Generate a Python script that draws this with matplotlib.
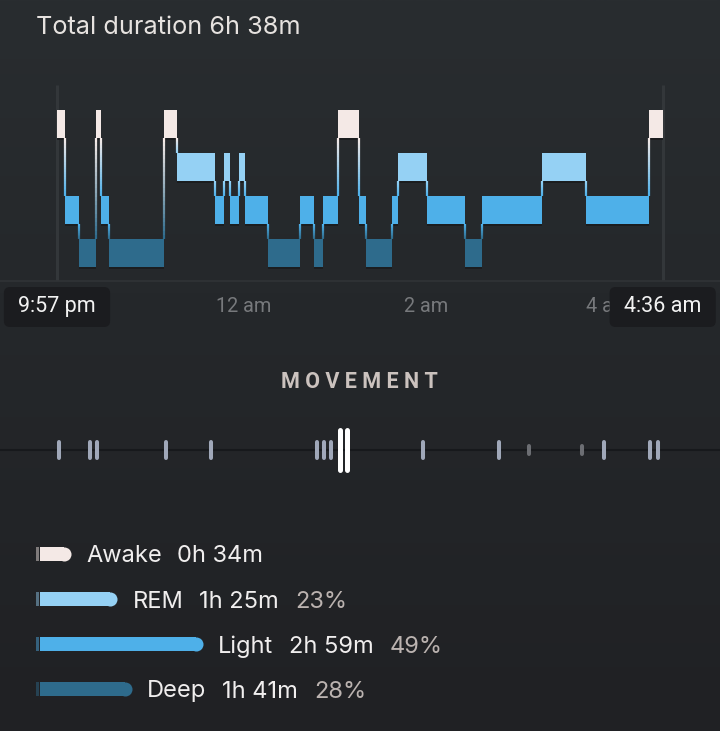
import numpy as np
import matplotlib
matplotlib.use("Agg")
import matplotlib.pyplot as plt
import matplotlib.colors as mcolors
from matplotlib.collections import LineCollection
from matplotlib.patches import FancyBboxPatch

plt.rcParams["font.family"] = ["Inter", "DejaVu Sans"]

# ------------------------------------------------------------
# data (minutes after 9:57 pm)
# ------------------------------------------------------------
stage_starts = [0, 5, 14.5, 25.7, 29.3, 34.3, 70.5, 79, 104, 110, 114, 120.2, 123.8,
                139.3, 160.4, 169, 175.2, 185.1, 199, 203.6, 220.4, 224.6, 244,
                268.8, 280.3, 319.8, 348.5, 389.7]
stage_seq = ["Awake", "Light", "Deep", "Awake", "Light", "Deep", "Awake", "REM",
             "Light", "REM", "Light", "REM", "Light", "Deep", "Light", "Deep",
             "Light", "Awake", "Light", "Deep", "Light", "REM", "Light", "Deep",
             "Light", "REM", "Light", "Awake"]
session_end = 399

movement_times = [1.4, 21.7, 26.5, 71.6, 101.3, 171.1, 176.0, 180.8, 186.3, 191.1,
                  241.0, 290.9, 310.9, 345.6, 360.5, 390.4, 395.6]
movement_level = [1, 1, 1, 1, 1, 1, 1, 1, 2.5, 2.5, 1, 1, 0.45, 0.45, 1, 1, 1]

time_ticks = [0, 123, 243, 363, 399]
time_labels = ["9:57 pm", "12 am", "2 am", "4 am", "4:36 am"]

stage_names = ["Awake", "REM", "Light", "Deep"]
stage_minutes = [34, 85, 179, 101]
stage_dur_labels = ["0h 34m", "1h 25m", "2h 59m", "1h 41m"]
stage_pct = ["", "23%", "49%", "28%"]

title = "Total duration 6h 38m"

# ------------------------------------------------------------
# style
# ------------------------------------------------------------
level = {"Awake": 3, "REM": 2, "Light": 1, "Deep": 0}
colour = {"Awake": "#f4e9e6", "REM": "#95d1f4", "Light": "#4eb0e9", "Deep": "#2e6b8c"}
half_h = 14 / 43

W, H = 720, 731
X0 = 57            # px of minute 0
PPM = 1.518        # px per minute


def fig_rect(top_px, bottom_px):
    return [0, 1 - bottom_px / H, 1, (bottom_px - top_px) / H]


fig = plt.figure(figsize=(W / 100, H / 100), dpi=100)

# background gradient
bg = fig.add_axes([0, 0, 1, 1], zorder=-10)
c_top = np.array(mcolors.to_rgb("#292d30"))
c_mid = np.array(mcolors.to_rgb("#25282b"))
c_bot = np.array(mcolors.to_rgb("#202124"))
yy = np.linspace(0, 1, 300)[:, None]
grad = np.where(yy < 0.4, c_top + (c_mid - c_top) * (yy / 0.4),
                c_mid + (c_bot - c_mid) * ((yy - 0.4) / 0.6))
bg.imshow(grad[:, None, :], aspect="auto", extent=[0, 1, 0, 1])
bg.axis("off")

xlim = (-X0 / PPM, (W - X0) / PPM)

# ------------------------------------------------------------
# hypnogram
# ------------------------------------------------------------
ax = fig.add_axes(fig_rect(85, 281))
ax.set_xlim(*xlim)
ax.set_ylim(-28 / 43, (253 - 85) / 43)
ax.axis("off")

ax.vlines([0, session_end], -28 / 43, (253 - 85) / 43, color="#33373a", lw=2.2, zorder=1)
ax.axhline(-28 / 43, color="#303336", lw=1.2, clip_on=False, zorder=1)

ends = stage_starts[1:] + [session_end]
widths = [e - s for s, e in zip(stage_starts, ends)]
lvls = [level[s] for s in stage_seq]
ax.bar(stage_starts, 2 * half_h, width=widths, bottom=[l - half_h for l in lvls],
       align="edge", color=[colour[s] for s in stage_seq], zorder=3)
ax.hlines([l - half_h - 0.02 for l in lvls], stage_starts, ends, color="#1a1c1e",
          lw=1.3, zorder=2)

# gradient connectors between stages
segs, cols = [], []
for i in range(1, len(stage_seq)):
    a, b = stage_seq[i - 1], stage_seq[i]
    up, lo = (a, b) if level[a] > level[b] else (b, a)
    y_top = level[up] - half_h
    y_bot = level[lo] + half_h
    ys = np.linspace(y_top, y_bot, 25)
    ca, cb = np.array(mcolors.to_rgb(colour[up])), np.array(mcolors.to_rgb(colour[lo]))
    for k in range(len(ys) - 1):
        f = k / (len(ys) - 2)
        segs.append([(stage_starts[i], ys[k]), (stage_starts[i], ys[k + 1])])
        cols.append(ca + (cb - ca) * f)
ax.add_collection(LineCollection(segs, colors=cols, linewidths=1.6, zorder=4))

# time labels
ty = (253 - 307) / 43
half_w = 35
renderer = fig.canvas.get_renderer()
badge_left = ax.transData.transform((time_ticks[-1] - half_w, 0))[0]
for t, lab in zip(time_ticks, time_labels):
    edge = t in (time_ticks[0], time_ticks[-1])
    if edge:
        box = FancyBboxPatch((t - half_w, (253 - 327) / 43), 2 * half_w, 40 / 43,
                             boxstyle="round,pad=0,rounding_size=4",
                             mutation_aspect=PPM / 43, fc="#1b1c1f", ec="none",
                             clip_on=False, zorder=6)
        ax.add_patch(box)
    txt = ax.text(t, ty, lab, ha="center", va="center",
                  fontsize=15.5 if edge else 14.3, family="Roboto",
                  color="#f2f2f2" if edge else "#77797c", clip_on=False,
                  zorder=7 if edge else 5)
    if not edge:
        # the end-time badge hides the tail of a label running under it
        bb = txt.get_window_extent(renderer)
        if bb.x1 > badge_left:
            x_left = ax.transData.inverted().transform((bb.x0, 0))[0]
            txt.set_ha("left")
            txt.set_x(x_left)
            while txt.get_window_extent(renderer).x1 > badge_left + 4 and len(lab) > 1:
                lab = lab[:-1]
                txt.set_text(lab)

# ------------------------------------------------------------
# movement
# ------------------------------------------------------------
fig.text(359 / W, 1 - 382 / H, "M O V E M E N T", ha="center", va="center",
         fontsize=15.5, fontweight="bold", family="Roboto", color="#cbc2be")

mx = fig.add_axes(fig_rect(420, 480))
mx.set_xlim(*xlim)
mx.set_ylim(-3, 3)
mx.axis("off")
mx.axhline(0, color="#17191c", lw=1.5, zorder=1)
for t, v in zip(movement_times, movement_level):
    if v > 2:
        c, lw = "#ffffff", 3.6
    elif v < 1:
        c, lw = "#6c6e73", 2.9
    else:
        c, lw = "#a0a8b9", 2.9
    mx.plot([t, t], [-0.8 * v, 0.8 * v], color=c, lw=lw, solid_capstyle="round", zorder=3)

# ------------------------------------------------------------
# legend / stage totals
# ------------------------------------------------------------
PPM_L = 0.91
lx = fig.add_axes(fig_rect(530, 710))
lx.set_xlim(-40 / PPM_L, (W - 40) / PPM_L)
lx.set_ylim(3 + 21 / 45, -24 / 45)
lx.axis("off")

r = 7 / PPM_L
bar_h = 14 / 45
for i, name in enumerate(stage_names):
    c = colour[name]
    stub = np.array(mcolors.to_rgb(c)) * 0.45 + np.array(mcolors.to_rgb("#202124")) * 0.55
    lx.barh(i, 3.6 / PPM_L, left=-4.4 / PPM_L, height=bar_h, color=stub)
    lx.barh(i, stage_minutes[i] - r, left=0, height=bar_h, color=c)
    lx.plot(stage_minutes[i] - r, i, "o", ms=10.1, color=c, mec="none")

    t1 = lx.annotate(name, xy=(stage_minutes[i], i), xytext=(11, 0),
                     textcoords="offset points", va="center_baseline", ha="left",
                     fontsize=17, color="#f0eeee")
    t2 = lx.annotate(stage_dur_labels[i], xy=(1, 0), xycoords=t1, xytext=(11, 0),
                     textcoords="offset points", va="bottom", ha="left",
                     fontsize=17, color="#f0eeee")
    if stage_pct[i]:
        lx.annotate(stage_pct[i], xy=(1, 0), xycoords=t2, xytext=(12, 0),
                    textcoords="offset points", va="bottom", ha="left",
                    fontsize=17, color="#bbb3b0")

fig.text(36 / W, 1 - 27 / H, title, ha="left", va="center", fontsize=18.2,
         color="#e6e2df")

fig.savefig("out.png", dpi=100)
